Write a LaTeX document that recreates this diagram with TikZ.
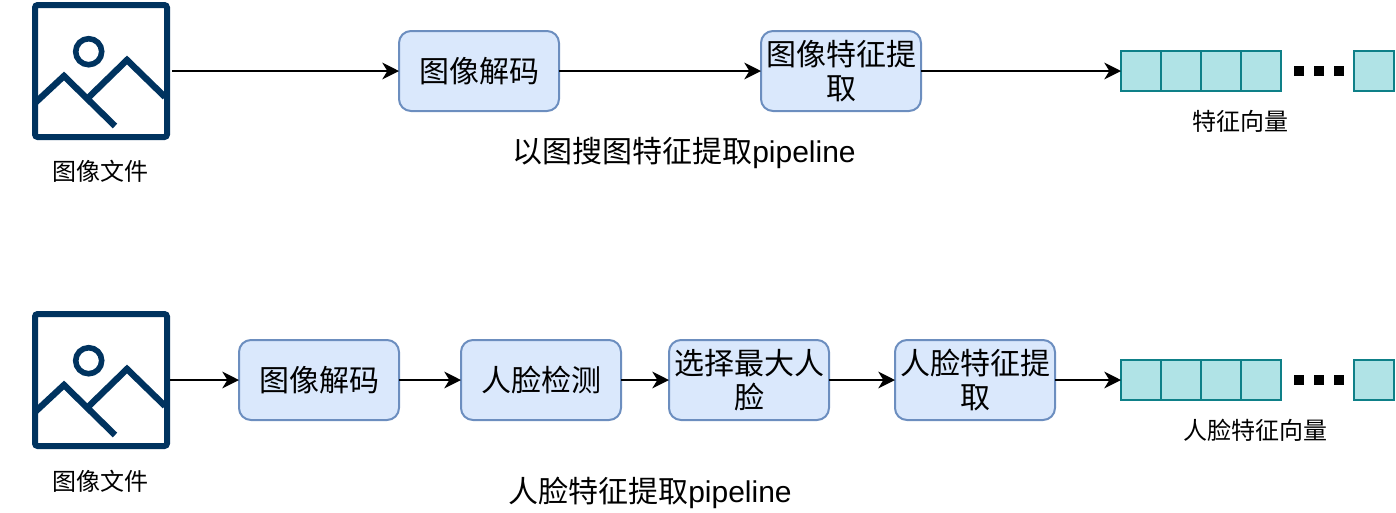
\documentclass[tikz,border=0pt]{standalone}
\usepackage{fontspec}
\setmainfont{Liberation Sans}
\newfontfamily\cjk{Noto Sans CJK SC}
\usetikzlibrary{arrows.meta, positioning}
\definecolor{iconblue}{HTML}{00335F}
\definecolor{boxblue}{HTML}{DAE8FC}
\definecolor{boxline}{HTML}{6C8EBF}
\definecolor{celltealfill}{HTML}{B0E3E6}
\definecolor{celltealline}{HTML}{0E8088}
\tikzset{
  stepbox/.style={rectangle, draw=boxline, fill=boxblue, line width=1.5pt,
                  rounded corners=9pt, minimum width=120pt, minimum height=60pt,
                  inner sep=0pt, outer sep=0pt, align=center,
                  font=\fontsize{22.5}{25.5}\selectfont\cjk},
  veccell/.style={rectangle, draw=celltealline, fill=celltealfill, line width=1.5pt,
                  minimum size=30pt, inner sep=0pt, outer sep=0pt},
  vecdot/.style={rectangle, fill=black, minimum size=7.5pt, inner sep=0pt, outer sep=0pt},
  link/.style={-{Stealth[length=12.5pt,width=12.5pt,inset=3.75pt]}, line width=1.5pt, draw=black},
  smalllabel/.style={font=\fontsize{18}{22}\selectfont\cjk, inner sep=0pt,
                     text height=16pt, text depth=2pt},
  titlelabel/.style={font=\fontsize{22.5}{27}\selectfont, inner sep=0pt,
                     text height=20pt, text depth=3pt},
  imgicon/.pic={
    \node[rectangle, draw=iconblue, line width=4.5pt, rounded corners=2pt,
          minimum size=99pt, inner sep=0pt, outer sep=2.25pt] (-box) {};
    \draw[iconblue, line width=4.2pt] (-12.3,-19.3) circle (13);
    \draw[iconblue, line width=4.8pt, miter limit=10] (-66,32) -- (-37,5) -- (14,55);
    \draw[iconblue, line width=4.8pt, miter limit=10] (-13,27) -- (26,-11) -- (64,26);
  },
}
\begin{document}
\begin{tikzpicture}[x=0.75pt, y=-0.75pt]
  \useasboundingbox (0,0) rectangle (1396,512);
  % --- image search row ---
  \pic (imgA) at (101,71) {imgicon};
  \node[smalllabel, below=14.25pt of imgA-box.south, xshift=-0.75pt] (fileA) {图像文件};
  \node[stepbox] (decA) at (479,71) {图像解码};
  \node[stepbox, right=151.5pt of decA] (featA) {图像特征提\\取};
  \node[veccell, right=150pt of featA] (cellA1) {};
  \node[veccell, right=0pt of cellA1] (cellA2) {};
  \node[veccell, right=0pt of cellA2] (cellA3) {};
  \node[veccell, right=0pt of cellA3] (cellA4) {};
  \node[vecdot, right=9.75pt of cellA4] (dotA1) {};
  \node[vecdot, right=7.5pt of dotA1] (dotA2) {};
  \node[vecdot, right=7.5pt of dotA2] (dotA3) {};
  \node[veccell, right=7.5pt of dotA3] (cellA5) {};
  \node[smalllabel] (vecA) at (1240,121) {特征向量};
  \node[titlelabel] (titleA) at (684,151) {{\cjk 以图搜图特征提取}pipeline};

  \draw[link, shorten <=1.5pt] (imgA-box.east) -- (decA.west);
  \draw[link] (decA.east) -- (featA.west);
  \draw[link] (featA.east) -- (cellA1.west);

  % --- face row ---
  \pic (imgB) at (101,380) {imgicon};
  \node[smalllabel, below=15pt of imgB-box.south, xshift=-0.75pt] (fileB) {图像文件};
  \node[stepbox] (decB) at (319,380) {图像解码};
  \node[stepbox, right=46.5pt of decB] (detB) {人脸检测};
  \node[stepbox, right=36pt of detB] (pickB) {选择最大人\\脸};
  \node[stepbox, right=49.5pt of pickB] (featB) {人脸特征提\\取};
  \node[veccell, right=49.5pt of featB] (cellB1) {};
  \node[veccell, right=0pt of cellB1] (cellB2) {};
  \node[veccell, right=0pt of cellB2] (cellB3) {};
  \node[veccell, right=0pt of cellB3] (cellB4) {};
  \node[vecdot, right=9.75pt of cellB4] (dotB1) {};
  \node[vecdot, right=7.5pt of dotB1] (dotB2) {};
  \node[vecdot, right=7.5pt of dotB2] (dotB3) {};
  \node[veccell, right=7.5pt of dotB3] (cellB5) {};
  \node[smalllabel] (vecB) at (1255.5,430) {人脸特征向量};
  \node[titlelabel] (titleB) at (650,491) {{\cjk 人脸特征提取}pipeline};

  \draw[link] (imgB-box.east) -- (decB.west);
  \draw[link] (decB.east) -- (detB.west);
  \draw[link] (detB.east) -- (pickB.west);
  \draw[link] (pickB.east) -- (featB.west);
  \draw[link] (featB.east) -- (cellB1.west);
\end{tikzpicture}
\end{document}
